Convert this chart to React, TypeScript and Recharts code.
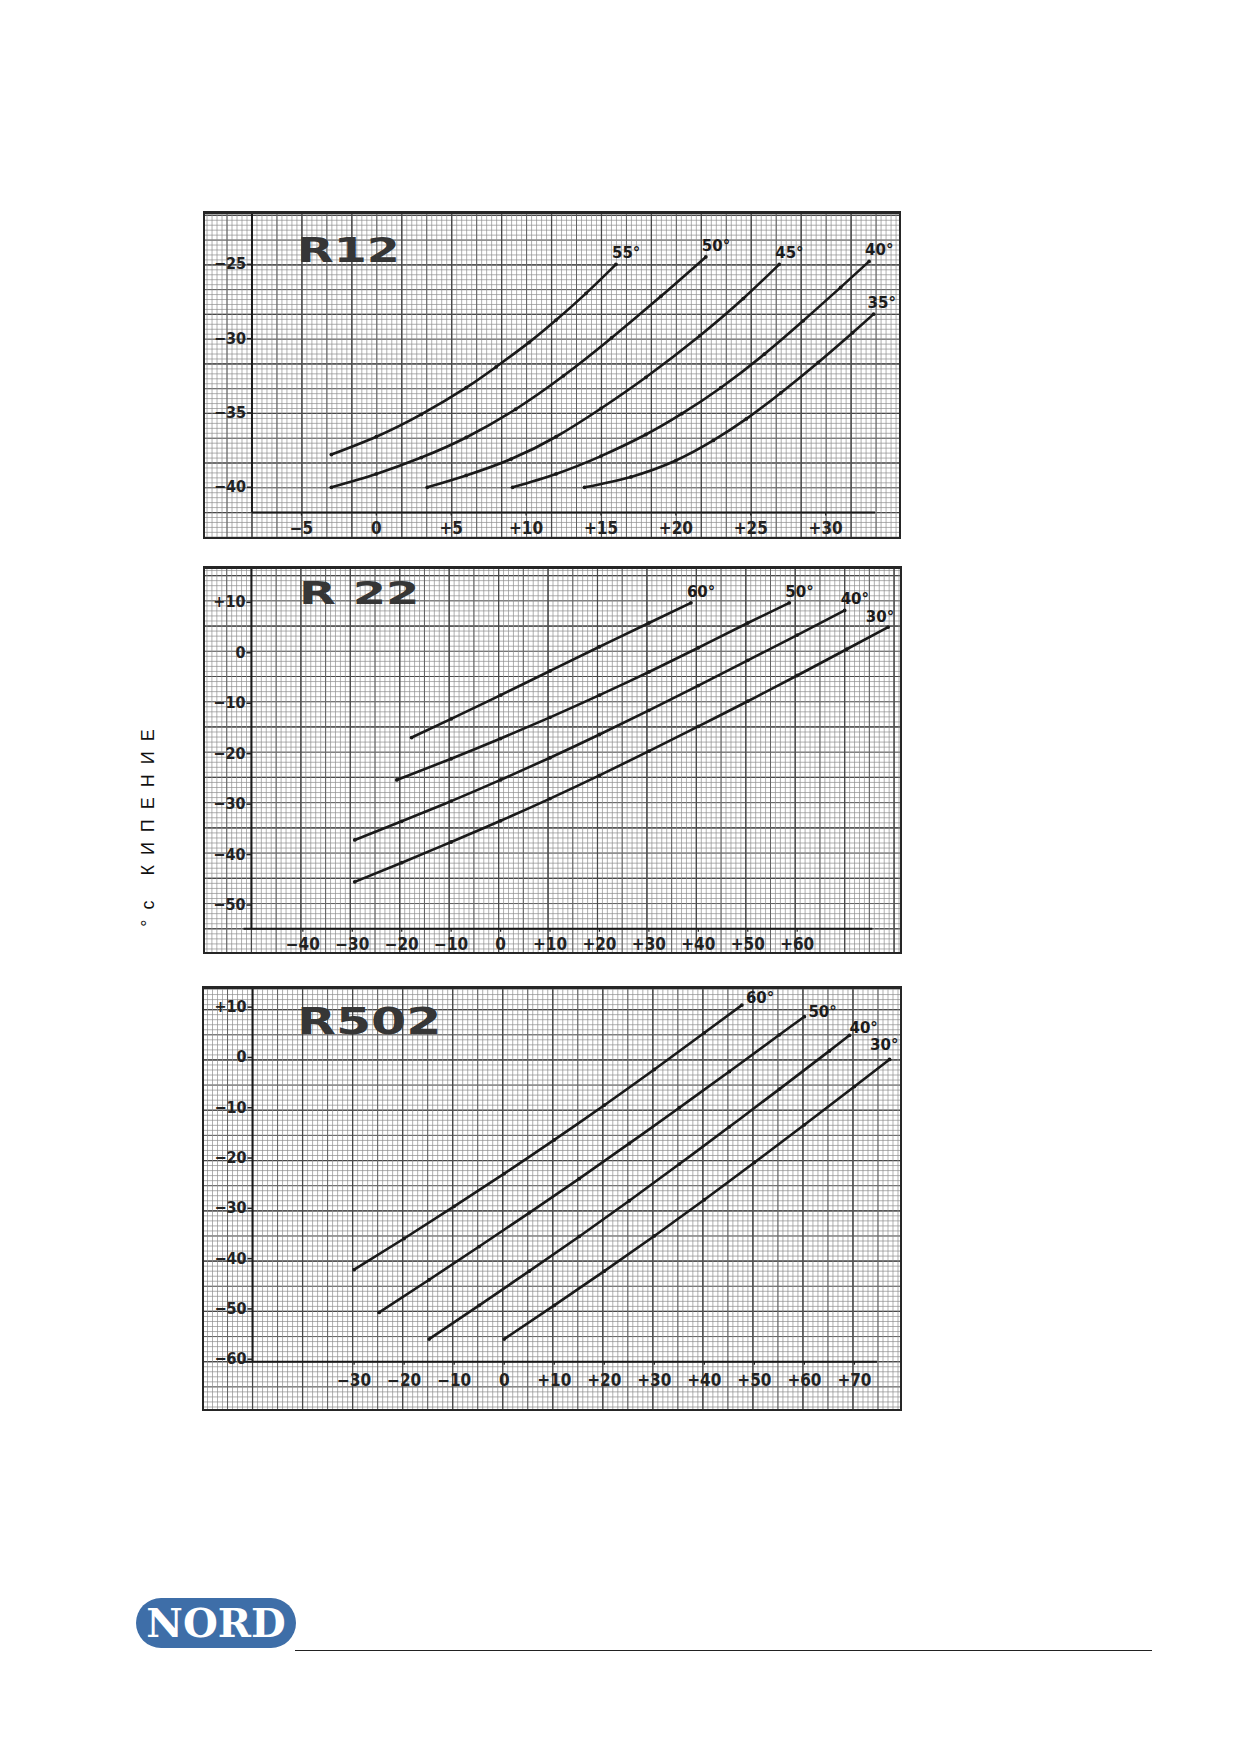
import React from 'react'
import {
  LineChart,
  Line,
  XAxis,
  YAxis,
  CartesianGrid,
  ReferenceLine,
  LabelList,
} from 'recharts'

type P = [number, number]

// R12 — boiling temperature vs. x-axis temperature, one curve per condensing temperature
const R12_55: P[] = [[-3, -37.8], [0, -36.6], [3, -35.1], [6, -33.3], [8, -31.9], [10.2, -30.25], [12, -28.75], [14, -26.95], [16, -25.0]]
const R12_50: P[] = [[-3, -40], [0, -39.1], [3, -38.0], [6, -36.65], [9.3, -34.75], [12.5, -32.5], [15.7, -29.95], [19, -27.15], [22, -24.5]]
const R12_45: P[] = [[3.4, -40], [6, -39.2], [9, -38.1], [12, -36.6], [15, -34.7], [18, -32.6], [21.6, -29.8], [24.5, -27.3], [26.9, -25.0]]
const R12_40: P[] = [[9.1, -40], [12, -39.1], [15, -37.9], [18, -36.45], [20.4, -35.05], [23, -33.3], [25.9, -31.05], [28.5, -28.8], [31, -26.55], [32.9, -24.8]]
const R12_35: P[] = [[13.9, -40], [17, -39.3], [20, -38.2], [22.5, -36.85], [24.7, -35.4], [27, -33.65], [29.5, -31.6], [31.8, -29.6], [33.2, -28.35]]

const R22_60: P[] = [[-18, -16.8], [-10, -13.1], [0, -8.4], [10, -3.6], [20, 1.2], [30, 5.9], [38.5, 9.9]]
const R22_50: P[] = [[-21, -25.2], [-10, -21.0], [0, -17.0], [10, -12.8], [20, -8.4], [30, -3.8], [40, 1.0], [50, 5.9], [58.4, 9.9]]
const R22_40: P[] = [[-29.5, -37.1], [-20, -33.4], [-10, -29.4], [0, -25.2], [10, -20.8], [20, -16.2], [30, -11.4], [40, -6.5], [50, -1.5], [60, 3.5], [69.6, 8.4]]
const R22_30: P[] = [[-29.5, -45.4], [-20, -41.6], [-10, -37.5], [0, -33.3], [10, -28.9], [20, -24.3], [30, -19.5], [40, -14.6], [50, -9.6], [60, -4.5], [70, 0.7], [78.4, 5.1]]

const R502_60: P[] = [[-30, -42.2], [-20, -36.0], [-10, -29.6], [0, -23.1], [10, -16.4], [20, -9.5], [30, -2.4], [40, 4.9], [47.5, 10.4]]
const R502_50: P[] = [[-25, -50.7], [-15, -44.2], [-5, -37.6], [5, -30.9], [15, -24.1], [25, -17.1], [35, -10.0], [45, -2.8], [55, 4.5], [60, 8.1]]
const R502_40: P[] = [[-15, -56], [-5, -49.3], [5, -42.5], [15, -35.6], [25, -28.5], [35, -21.2], [45, -13.8], [55, -6.3], [65, 1.3], [69, 4.4]]
const R502_30: P[] = [[0, -56], [10, -49.3], [20, -42.5], [30, -35.5], [40, -28.3], [50, -20.9], [60, -13.4], [70, -5.8], [77, -0.4]]

const R12_X_TICKS = [-5, 0, 5, 10, 15, 20, 25, 30]
const R12_Y_TICKS = [-25, -30, -35, -40]
const R22_X_TICKS = [-40, -30, -20, -10, 0, 10, 20, 30, 40, 50, 60]
const R22_Y_TICKS = [10, 0, -10, -20, -30, -40, -50]
const R502_X_TICKS = [-30, -20, -10, 0, 10, 20, 30, 40, 50, 60, 70]
const R502_Y_TICKS = [10, 0, -10, -20, -30, -40, -50, -60]

const R12_TAGS = ['55°', '50°', '45°', '40°', '35°']
const R22_TAGS = ['60°', '50°', '40°', '30°']
const R502_TAGS = ['60°', '50°', '40°', '30°']

type TagPos = [number, number, 'start' | 'end']

interface Panel {
  title: string
  left: number
  top: number
  width: number
  height: number
  xDomain: [number, number]
  yDomain: [number, number]
  xTicks: number[]
  yTicks: number[]
  origin: [number, number]
  xAxisStart: number
  xAxisEnd: number
  steps: [number, number, number] // fine / medium / bold paper lines, in data units
  curves: P[][]
  tags: string[]
  tagPos: TagPos[]
  titleLeft: number
  titleTop: number
  titleSize: number
  titleScale: number
  xLabelBelow: number
}

const PANELS: Panel[] = [
  {
    title: 'R12',
    left: 203, top: 211, width: 698, height: 328,
    xDomain: [-11.57, 35.03], yDomain: [-43.48, -21.41],
    xTicks: R12_X_TICKS, yTicks: R12_Y_TICKS,
    origin: [-8.3, -41.7], xAxisStart: -8.3, xAxisEnd: 33.3,
    steps: [1 / 3, 5 / 3, 10 / 3],
    curves: [R12_55, R12_50, R12_45, R12_40, R12_35],
    tags: R12_TAGS,
    tagPos: [[-4, -6, 'start'], [-4, -6, 'start'], [-4, -6, 'start'], [-4, -6, 'start'], [-6, -6, 'start']],
    titleLeft: 94, titleTop: 22, titleSize: 34, titleScale: 1.4,
    xLabelBelow: 15,
  },
  {
    title: 'R 22',
    left: 203, top: 566, width: 699, height: 388,
    xDomain: [-60.2, 81.2], yDomain: [-59.7, 17.2],
    xTicks: R22_X_TICKS, yTicks: R22_Y_TICKS,
    origin: [-50.4, -54.7], xAxisStart: -52, xAxisEnd: 75.2,
    steps: [1, 5, 10],
    curves: [R22_60, R22_50, R22_40, R22_30],
    tags: R22_TAGS,
    tagPos: [[-4, -6, 'start'], [-4, -6, 'start'], [-4, -6, 'start'], [6, -5, 'end']],
    titleLeft: 96, titleTop: 11, titleSize: 32, titleScale: 1.5,
    xLabelBelow: 15,
  },
  {
    title: 'R502',
    left: 202, top: 986, width: 700, height: 425,
    xDomain: [-60.4, 79.5], yDomain: [-70.3, 14.2],
    xTicks: R502_X_TICKS, yTicks: R502_Y_TICKS,
    origin: [-50.3, -60.5], xAxisStart: -52, xAxisEnd: 74.5,
    steps: [1, 5, 10],
    curves: [R502_60, R502_50, R502_40, R502_30],
    tags: R502_TAGS,
    tagPos: [[4, -2, 'start'], [4, 0, 'start'], [0, -2, 'start'], [9, -9, 'end']],
    titleLeft: 95, titleTop: 16, titleSize: 38, titleScale: 1.33,
    xLabelBelow: 18,
  },
]

const TICK_FONT = "'DejaVu Sans Condensed', 'Liberation Sans Narrow', 'DejaVu Sans', sans-serif"

const PAPER = [
  { id: 'f', stroke: '#8e8e8e', w: 0.7 },
  { id: 'm', stroke: '#626262', w: 1.0 },
  { id: 'b', stroke: '#484848', w: 1.2 },
]

function fmt(v: number) {
  if (v > 0) return `+${v}`
  if (v < 0) return `\u2212${-v}`
  return '0'
}

// paper lines at origin + k*step inside the domain
function paperLines(origin: number, step: number, [min, max]: [number, number]) {
  const out: number[] = []
  const k0 = Math.ceil((min - origin) / step)
  const k1 = Math.floor((max - origin) / step)
  for (let k = k0; k <= k1; k++) out.push(+(origin + k * step).toFixed(4))
  return out
}

function Chart({ p }: { p: Panel }) {
  const [ox, oy] = p.origin
  const [xMin, xMax] = p.xDomain
  const [yMin, yMax] = p.yDomain
  const axisPxX = ((ox - xMin) / (xMax - xMin)) * p.width
  const axisPxY = ((yMax - oy) / (yMax - yMin)) * p.height

  const series = p.curves.map((pts, i) =>
    pts.map(([x, y], j) => ({ x, y, tag: j === pts.length - 1 ? p.tags[i] : '' }))
  )

  const yTick = (t: any) => (
    <g>
      <text
        x={axisPxX - 6}
        y={t.y}
        dy={5}
        textAnchor="end"
        fontFamily={TICK_FONT}
        fontWeight="bold"
        fontSize={16}
        fill="#222"
      >
        {fmt(t.payload.value)}
      </text>
      <line x1={axisPxX - 5} x2={axisPxX} y1={t.y} y2={t.y} stroke="#222" strokeWidth={1.5} />
    </g>
  )

  const xTick = (t: any) => (
    <g>
      <line x1={t.x} x2={t.x} y1={axisPxY} y2={axisPxY + 3} stroke="#222" strokeWidth={1.2} />
      <text
        x={t.x}
        y={axisPxY + p.xLabelBelow}
        dy={6}
        textAnchor="middle"
        fontFamily={TICK_FONT}
        fontWeight="bold"
        fontSize={17}
        fill="#222"
      >
        {fmt(t.payload.value)}
      </text>
    </g>
  )

  const tagContent = (i: number) => (props: any) => {
    if (!props.value) return null
    const [dx, dy, anchor] = p.tagPos[i]
    return (
      <text
        x={props.x + dx}
        y={props.y + dy}
        textAnchor={anchor}
        fontFamily="'DejaVu Sans', sans-serif"
        fontWeight="bold"
        fontSize={15}
        fill="#1c1c1c"
      >
        {props.value}
      </text>
    )
  }

  return (
    <div style={{ position: 'absolute', left: p.left, top: p.top, width: p.width, height: p.height }}>
      <LineChart width={p.width} height={p.height} margin={{ top: 0, right: 0, bottom: 0, left: 0 }}>
        {PAPER.map((lv, i) => (
          <YAxis
            key={'y' + lv.id}
            yAxisId={lv.id}
            type="number"
            domain={p.yDomain}
            allowDataOverflow
            ticks={paperLines(oy, p.steps[i], p.yDomain)}
            interval={0}
            hide
          />
        ))}
        <XAxis
          xAxisId="l"
          dataKey="x"
          type="number"
          domain={p.xDomain}
          allowDataOverflow
          ticks={p.xTicks}
          interval={0}
          mirror
          height={1}
          axisLine={false}
          tickLine={false}
          tick={xTick}
        />
        <YAxis
          yAxisId="l"
          type="number"
          domain={p.yDomain}
          allowDataOverflow
          ticks={p.yTicks}
          interval={0}
          mirror
          width={1}
          axisLine={false}
          tickLine={false}
          tick={yTick}
        />
        {/* horizontal paper lines */}
        {PAPER.map((lv) => (
          <CartesianGrid
            key={'g' + lv.id}
            xAxisId="l"
            yAxisId={lv.id}
            vertical={false}
            stroke={lv.stroke}
            strokeWidth={lv.w}
          />
        ))}
        {/* vertical paper lines */}
        {PAPER.map((lv, i) =>
          paperLines(ox, p.steps[i], p.xDomain).map((v) => (
            <ReferenceLine
              key={lv.id + v}
              xAxisId="l"
              yAxisId="l"
              x={v}
              stroke={lv.stroke}
              strokeWidth={lv.w}
              ifOverflow="hidden"
            />
          ))
        )}
        <ReferenceLine
          xAxisId="l"
          yAxisId="l"
          segment={[{ x: ox, y: oy }, { x: ox, y: yMax }]}
          stroke="#1a1a1a"
          strokeWidth={2}
          ifOverflow="visible"
        />
        <ReferenceLine
          xAxisId="l"
          yAxisId="l"
          segment={[{ x: p.xAxisStart, y: oy }, { x: p.xAxisEnd, y: oy }]}
          stroke="#1a1a1a"
          strokeWidth={2}
          ifOverflow="visible"
        />
        {series.map((data, i) => (
          <Line
            key={p.tags[i]}
            xAxisId="l"
            yAxisId="l"
            data={data}
            dataKey="y"
            type="natural"
            stroke="#1a1a1a"
            strokeWidth={2.6}
            dot={{ r: 1.9, fill: '#1a1a1a', stroke: 'none' }}
            isAnimationActive={false}
          >
            <LabelList dataKey="tag" content={tagContent(i)} />
          </Line>
        ))}
      </LineChart>
      <div
        style={{
          position: 'absolute',
          left: p.titleLeft,
          top: p.titleTop,
          fontFamily: "'DejaVu Sans', sans-serif",
          fontWeight: 900,
          fontSize: p.titleSize,
          lineHeight: 1,
          color: '#363636',
          transform: `scaleX(${p.titleScale})`,
          transformOrigin: 'left top',
          whiteSpace: 'pre',
        }}
      >
        {p.title}
      </div>
      <div
        style={{
          position: 'absolute',
          inset: 0,
          border: '2px solid #262626',
          borderTopWidth: 3,
          boxSizing: 'border-box',
          pointerEvents: 'none',
        }}
      />
    </div>
  )
}

export default function App() {
  return (
    <div style={{ position: 'relative', width: 1239, height: 1754, background: '#fff', overflow: 'hidden' }}>
      <style>{'body{margin:0}'}</style>
      {PANELS.map((p) => (
        <Chart key={p.title} p={p} />
      ))}
      <div
        style={{
          position: 'absolute',
          left: 148,
          top: 823,
          transform: 'translate(-50%, -50%) rotate(-90deg)',
          fontFamily: "'Liberation Sans', Arial, sans-serif",
          fontSize: 18,
          letterSpacing: 10,
          color: '#111',
          whiteSpace: 'nowrap',
        }}
      >
        °с КИПЕНИЕ
      </div>
      <div
        style={{
          position: 'absolute',
          left: 136,
          top: 1598,
          width: 160,
          height: 50,
          borderRadius: 25,
          background: '#3e6ea8',
          color: '#fff',
          fontFamily: "'DejaVu Serif', serif",
          fontWeight: 'bold',
          fontSize: 40,
          lineHeight: '50px',
          textAlign: 'center',
        }}
      >
        NORD
      </div>
      <div
        style={{
          position: 'absolute',
          left: 295,
          top: 1650,
          width: 857,
          borderTop: '1.5px solid #222',
        }}
      />
    </div>
  )
}
